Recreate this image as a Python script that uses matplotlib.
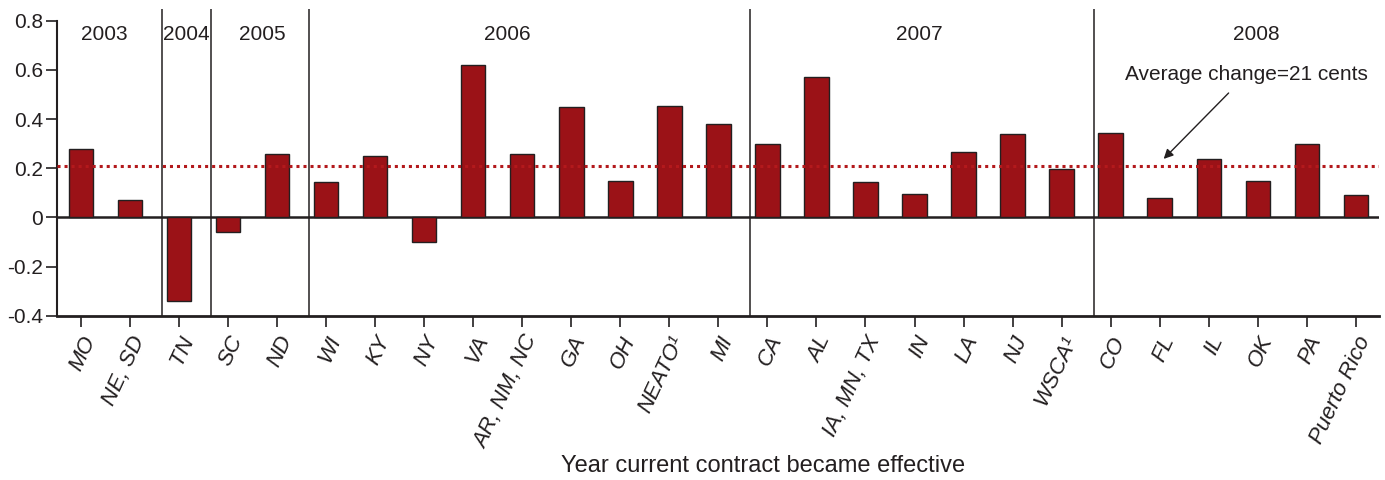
import numpy as np
from matplotlib import pyplot as plt

# change per contract, grouped by year the current contract became effective
states = ["MO", "NE, SD", "TN", "SC", "ND", "WI", "KY", "NY", "VA", "AR, NM, NC",
          "GA", "OH", "NEATO\u00b9", "MI", "CA", "AL", "IA, MN, TX", "IN", "LA", "NJ",
          "WSCA\u00b9", "CO", "FL", "IL", "OK", "PA", "Puerto Rico"]
change = [0.28, 0.07, -0.34, -0.06, 0.26, 0.145, 0.25, -0.10, 0.62, 0.26,
          0.45, 0.15, 0.455, 0.38, 0.30, 0.57, 0.145, 0.095, 0.265, 0.34,
          0.195, 0.345, 0.08, 0.237, 0.148, 0.297, 0.093]
years = ["2003", "2004", "2005", "2006", "2007", "2008"]
per_year = [2, 1, 2, 9, 7, 6]
avg_change = 0.21

plt.rcParams['font.family'] = ['Liberation Sans', 'DejaVu Sans']
ink = "#231f20"

fig = plt.figure(figsize=(13.85, 4.8), dpi=100)
ax = fig.add_axes([0.041, 0.342, 0.955, 0.639])

x = np.arange(len(states))
ax.bar(x, change, width=0.5, color="#9b1217", edgecolor=ink, linewidth=1.0, zorder=3)
ax.axhline(0, color=ink, lw=1.8, zorder=2)
ax.axhline(avg_change, color="#b3191c", lw=2.2, ls=(0, (1, 1.3)), zorder=4)

ax.set_xlim(-0.49, 26.48)
ax.set_ylim(-0.4, 0.847)

# year separators
bounds = np.cumsum(per_year)[:-1] - 0.35
for b in bounds:
    ax.axvline(b, color=ink, lw=1.1, zorder=2)
label_x = [0.47, 2.15, 3.7, 8.7, 17.1, 23.96]
for yr, lx in zip(years, label_x):
    ax.text(lx, 0.745, yr, ha="center", va="center", fontsize=15, color=ink)

ax.annotate("Average change=21 cents", xy=(22.08, 0.238), xytext=(23.77, 0.58),
            ha="center", va="center", fontsize=15, color=ink,
            arrowprops=dict(arrowstyle="-|>", color=ink, lw=1.0,
                            shrinkA=6, shrinkB=0, mutation_scale=14))

ax.spines["top"].set_visible(False)
ax.spines["right"].set_visible(False)
ax.spines["left"].set_bounds(-0.4, 0.8)
ax.spines["left"].set_linewidth(1.5)
ax.spines["bottom"].set_linewidth(2.0)
ax.spines["left"].set_color(ink)
ax.spines["bottom"].set_color(ink)

ax.set_yticks([-0.4, -0.2, 0, 0.2, 0.4, 0.6, 0.8])
ax.set_yticklabels(["-0.4", "-0.2", "0", "0.2", "0.4", "0.6", "0.8"])
ax.tick_params(axis="y", labelsize=15, length=8, width=1.2, colors=ink, pad=2)
ax.tick_params(axis="x", length=8, width=1.2, colors=ink, pad=4)

ax.set_xticks(x)
ax.set_xticklabels(states, rotation=65, ha="right", rotation_mode="anchor",
                   fontsize=16, fontstyle="italic", color=ink)

ax.set_xlabel("Year current contract became effective", fontsize=17, color=ink,
              x=0.534, labelpad=2)

fig.savefig("out.png", dpi=100)
